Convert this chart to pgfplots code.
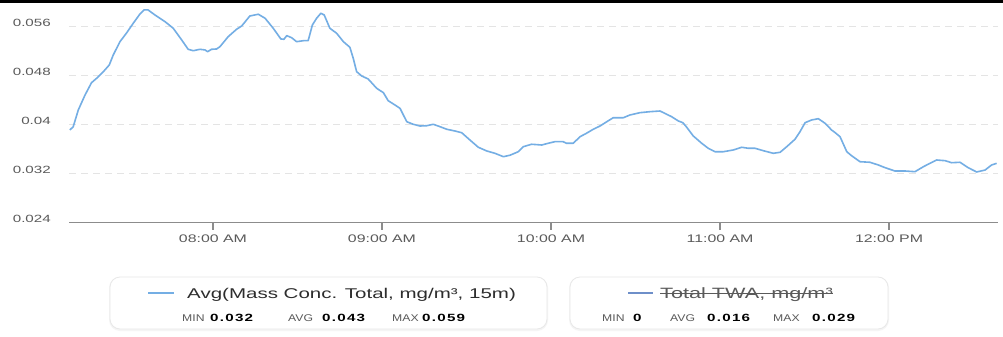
\documentclass[border=0pt]{standalone}
\usepackage{fontspec}
\setmainfont{Liberation Sans}[FakeStretch=1.45]
\newfontfamily\numfont{Liberation Sans}[FakeStretch=1.45, LetterSpace=12]
\newfontfamily\labfont{Liberation Sans}[FakeStretch=1.25]
\usepackage{pgfplots}
\pgfplotsset{compat=1.18}
\usepackage{pgfplotstable}
\definecolor{linecol}{RGB}{116,174,228}
\definecolor{line2}{RGB}{110,143,201}
\definecolor{axisgray}{RGB}{140,140,140}
\definecolor{gridgray}{RGB}{228,228,228}
\definecolor{labgray}{RGB}{90,90,90}
\definecolor{boxgray}{RGB}{232,232,232}
\definecolor{txtdark}{RGB}{45,45,45}

\pgfplotstableread{
m v
429.2 0.03908
430.4 0.03962
432.2 0.04234
434.6 0.04478
436.9 0.04678
438.7 0.04749
441.1 0.04857
443.2 0.04966
444.6 0.05128
447.0 0.05345
449.4 0.05491
451.7 0.05644
454.1 0.05796
455.5 0.05861
457.0 0.05861
459.4 0.05779
463.0 0.05670
465.9 0.05563
468.9 0.05373
471.2 0.05221
473.0 0.05198
475.4 0.05221
477.2 0.05210
478.1 0.05182
479.5 0.05221
481.3 0.05226
482.5 0.05264
485.4 0.05426
488.4 0.05547
490.2 0.05600
493.1 0.05763
496.1 0.05791
498.5 0.05726
501.4 0.05563
504.1 0.05389
505.2 0.05384
506.2 0.05443
507.9 0.05410
509.7 0.05345
512.1 0.05361
513.8 0.05361
515.3 0.05617
516.8 0.05726
518.3 0.05807
519.5 0.05779
521.5 0.05563
523.9 0.05482
526.3 0.05345
528.6 0.05254
529.8 0.05075
531.0 0.04857
532.8 0.04787
535.1 0.04738
538.1 0.04587
540.5 0.04515
542.2 0.04385
544.6 0.04315
546.4 0.04261
548.8 0.04043
551.1 0.04001
553.5 0.03973
555.9 0.03978
558.2 0.04001
560.6 0.03962
563.0 0.03920
565.9 0.03892
568.3 0.03864
571.2 0.03746
574.2 0.03627
577.2 0.03567
580.1 0.03529
583.1 0.03474
585.4 0.03497
588.4 0.03555
590.2 0.03637
593.1 0.03676
596.7 0.03664
599.0 0.03692
601.4 0.03718
604.3 0.03718
605.5 0.03692
607.9 0.03692
610.3 0.03799
612.6 0.03855
615.0 0.03920
617.4 0.03973
619.8 0.04043
622.1 0.04108
625.7 0.04108
628.0 0.04152
631.6 0.04190
635.1 0.04206
638.7 0.04217
642.8 0.04125
645.2 0.04055
646.8 0.04027
648.2 0.03952
650.5 0.03811
653.5 0.03692
655.8 0.03611
658.2 0.03555
661.2 0.03555
664.7 0.03583
667.7 0.03627
670.0 0.03611
672.4 0.03611
675.4 0.03571
678.9 0.03529
681.3 0.03545
683.7 0.03637
686.6 0.03757
688.4 0.03881
690.2 0.04027
692.5 0.04071
694.9 0.04092
697.3 0.04017
699.6 0.03908
700.9 0.03864
702.6 0.03799
705.0 0.03555
706.7 0.03490
709.7 0.03392
713.2 0.03383
716.2 0.03339
718.6 0.03295
722.1 0.03241
725.7 0.03241
729.2 0.03230
732.2 0.03311
734.5 0.03366
736.9 0.03420
739.9 0.03409
742.2 0.03376
745.2 0.03383
748.1 0.03295
751.1 0.03225
754.1 0.03257
756.4 0.03339
758.2 0.03366
}\avgdata

\begin{document}
\begin{tikzpicture}
\useasboundingbox (0,0) rectangle (1003bp,-337bp);
\fill[white] (0,0) rectangle (1003bp,-337bp);
\fill[black] (0,0) rectangle (1003bp,-3.3bp);
\begin{axis}[
  at={(69bp,-222.7bp)}, anchor=south west,
  scale only axis, width=928.5bp, height=221.3bp,
  xmin=428.9, xmax=758.5, ymin=0.024, ymax=0.060,
  axis x line*=bottom, axis y line*=left,
  y axis line style={draw=none},
  x axis line style={draw=axisgray, line width=1.2bp, -},
  xtick={480,540,600,660,720},
  xticklabels={08:00 AM,09:00 AM,10:00 AM,11:00 AM,12:00 PM},
  ytick={0.024,0.032,0.040,0.048,0.056},
  yticklabels={0.024,0.032,0.04,0.048,0.056},
  tick align=outside,
  major tick length=7bp,
  xtick style={draw=axisgray, line width=1.2bp},
  ytick style={draw=none},
  ymajorgrids,
  grid style={gridgray, dash pattern=on 7bp off 5bp, line width=0.8bp},
  xticklabel style={font=\fontsize{11}{13}\selectfont, text=labgray, anchor=north, inner sep=0pt, yshift=-5.3bp},
  yticklabel style={font=\fontsize{10.5}{12}\selectfont, text=labgray, anchor=east, inner sep=0pt, xshift=-11bp, yshift=3.5bp},
  clip=false,
]
\addplot[linecol, line width=1.6bp, line join=round, mark=none] table[x=m, y=v] {\avgdata};
\end{axis}
% legend box 1
\fill[black!4, rounded corners=11bp] (109bp,-277bp) rectangle (548bp,-331bp);
\filldraw[draw=boxgray, fill=white, line width=0.8bp, rounded corners=10bp] (110bp,-277bp) rectangle (547bp,-329bp);
\draw[linecol, line width=1.6bp] (148bp,-293bp) -- (174bp,-293bp);
\node[anchor=base west, inner sep=0pt, text=txtdark, font=\fontsize{14.2}{16}\selectfont] at (187bp,-298.3bp) {Avg(Mass Conc. Total, mg/m³, 15m)};
\begin{scope}[every node/.style={anchor=base west, inner sep=0pt, font=\labfont\fontsize{9.8}{12}\selectfont}]
\node[text=labgray] at (182bp,-321bp) {MIN};
\node[text=black] at (210bp,-321bp) {\numfont\fontsize{10.5}{12}\selectfont\bfseries 0.032};
\node[text=labgray] at (288bp,-321bp) {AVG};
\node[text=black] at (322bp,-321bp) {\numfont\fontsize{10.5}{12}\selectfont\bfseries 0.043};
\node[text=labgray] at (392bp,-321bp) {MAX};
\node[text=black] at (422bp,-321bp) {\numfont\fontsize{10.5}{12}\selectfont\bfseries 0.059};
\end{scope}
% legend box 2
\fill[black!4, rounded corners=11bp] (569bp,-277bp) rectangle (889bp,-331bp);
\filldraw[draw=boxgray, fill=white, line width=0.8bp, rounded corners=10bp] (570bp,-277bp) rectangle (888bp,-329bp);
\draw[line2, line width=1.6bp] (628bp,-293bp) -- (653bp,-293bp);
\node[anchor=base west, inner sep=0pt, text=labgray, font=\fontsize{15}{16}\selectfont] (twa) at (660bp,-298.3bp) {Total TWA, mg/m³};
\draw[labgray, line width=0.9bp] (twa.west |- 0,-293.5bp) -- (twa.east |- 0,-293.5bp);
\begin{scope}[every node/.style={anchor=base west, inner sep=0pt, font=\labfont\fontsize{9.8}{12}\selectfont}]
\node[text=labgray] at (602bp,-321bp) {MIN};
\node[text=black] at (633bp,-321bp) {\numfont\fontsize{10.5}{12}\selectfont\bfseries 0};
\node[text=labgray] at (670bp,-321bp) {AVG};
\node[text=black] at (707bp,-321bp) {\numfont\fontsize{10.5}{12}\selectfont\bfseries 0.016};
\node[text=labgray] at (773bp,-321bp) {MAX};
\node[text=black] at (812bp,-321bp) {\numfont\fontsize{10.5}{12}\selectfont\bfseries 0.029};
\end{scope}
\end{tikzpicture}
\end{document}
